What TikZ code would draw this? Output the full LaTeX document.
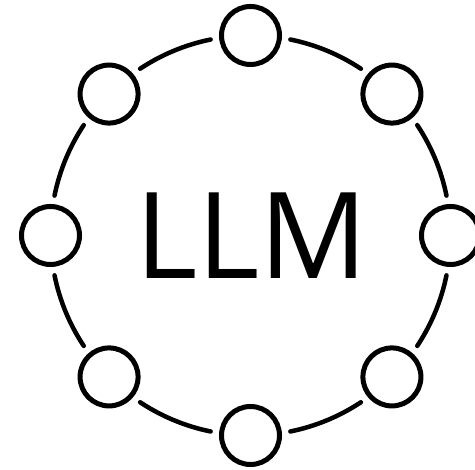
\documentclass[tikz,border=0pt]{standalone}
\usepackage{fontspec}
\usetikzlibrary{calc}
\newfontfamily\llmfont{Open Sans}
\begin{document}
\begin{tikzpicture}[x=1pt,y=1pt,
  ringnode/.style={circle,draw=black,line width=5pt,minimum size=58pt,inner sep=0pt,outer sep=0pt},
  ringarc/.style={draw=black,line width=4.5pt,line cap=round},
  title/.style={inner sep=0pt,font=\llmfont\fontsize{120}{120}\selectfont}]
\clip (0,0) rectangle (475,470);
\fill[white] (0,0) rectangle (475,470);
\coordinate (ctr) at (250.5,234.5);
\foreach \i in {0,...,7} {
  \node[ringnode] (n\i) at ($(ctr)+({45*\i}:200)$) {};
}
\foreach \i in {0,...,7} {
  \draw[ringarc] ($(ctr)+({45*\i+11.5}:200)$) arc[start angle={45*\i+11.5}, delta angle=22, radius=200];
}
\node[title] (llm) at (251.5,234) {LLM};
\end{tikzpicture}
\end{document}
